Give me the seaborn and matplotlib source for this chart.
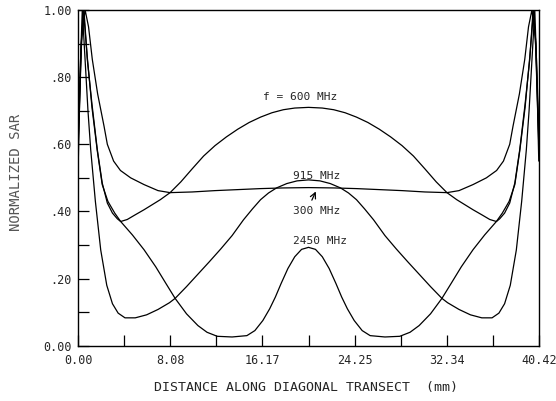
import matplotlib
matplotlib.use("Agg")
import matplotlib.pyplot as plt
import seaborn as sns
import pandas as pd

# ---------------- data ----------------
x_300 = [0.00, 0.30, 0.60, 0.90, 1.23, 1.70, 2.26, 2.55, 3.10, 3.70, 4.60, 5.77,
         7.00, 8.06, 10.00, 12.00, 14.00, 16.00, 18.00, 20.21,
         22.42, 24.42, 26.42, 28.42, 30.42, 32.36, 33.42, 34.65, 35.82, 36.72,
         37.32, 37.87, 38.16, 38.72, 39.19, 39.52, 39.82, 40.12, 40.42]
y_300 = [0.60, 0.92, 1.00, 0.95, 0.853, 0.75, 0.654, 0.600, 0.550, 0.522, 0.500, 0.480,
         0.462, 0.456, 0.458, 0.462, 0.465, 0.468, 0.470, 0.471,
         0.470, 0.468, 0.465, 0.462, 0.458, 0.456, 0.462, 0.480, 0.500, 0.522,
         0.550, 0.600, 0.654, 0.75, 0.853, 0.95, 1.00, 0.92, 0.60]

x_600 = [0.00, 0.25, 0.50, 0.79, 1.20, 1.67, 2.10, 2.55, 3.00, 3.43, 3.72, 4.30,
         5.00, 5.77, 7.20, 8.06, 9.00, 10.00, 11.00, 12.00, 13.00, 14.00, 15.00,
         16.00, 17.00, 18.00, 19.00, 20.21,
         21.42, 22.42, 23.42, 24.42, 25.42, 26.42, 27.42, 28.42, 29.42, 30.42,
         31.42, 32.36, 33.22, 34.65, 35.42, 36.12, 36.70, 36.99, 37.42, 37.87,
         38.32, 38.75, 39.22, 39.63, 39.92, 40.17, 40.42]
y_600 = [0.65, 0.90, 1.00, 0.853, 0.72, 0.584, 0.485, 0.425, 0.395, 0.378, 0.370, 0.376,
         0.390, 0.405, 0.435, 0.456, 0.488, 0.527, 0.565, 0.596, 0.622, 0.645, 0.665,
         0.681, 0.694, 0.703, 0.708, 0.710,
         0.708, 0.703, 0.694, 0.681, 0.665, 0.645, 0.622, 0.596, 0.565, 0.527,
         0.488, 0.456, 0.435, 0.405, 0.390, 0.376, 0.370, 0.378, 0.395, 0.425,
         0.485, 0.584, 0.72, 0.853, 1.00, 0.90, 0.65]

x_915 = [0.00, 0.20, 0.35, 0.60, 0.85, 1.09, 1.50, 1.97, 2.50, 3.00, 3.50, 4.10,
         5.00, 6.00, 7.00, 8.00, 8.50, 9.50, 10.50, 11.50, 12.50, 13.50, 14.50,
         15.30, 16.00, 16.70, 17.40, 18.30, 19.20, 20.21,
         21.22, 22.12, 23.02, 23.72, 24.42, 25.12, 25.92, 26.92, 27.92, 28.92,
         29.92, 30.92, 31.92, 32.42, 33.42, 34.42, 35.42, 36.32, 36.92, 37.42,
         37.92, 38.45, 38.92, 39.33, 39.57, 39.82, 40.07, 40.22, 40.42]
y_915 = [0.55, 0.85, 1.00, 0.85, 0.70, 0.584, 0.43, 0.285, 0.18, 0.125, 0.097, 0.083,
         0.083, 0.092, 0.108, 0.128, 0.141, 0.176, 0.213, 0.250, 0.288, 0.328, 0.375,
         0.408, 0.435, 0.455, 0.470, 0.483, 0.491, 0.494,
         0.491, 0.483, 0.470, 0.455, 0.435, 0.408, 0.375, 0.328, 0.288, 0.250,
         0.213, 0.176, 0.141, 0.128, 0.108, 0.092, 0.083, 0.083, 0.097, 0.125,
         0.18, 0.285, 0.43, 0.584, 0.70, 0.85, 1.00, 0.85, 0.55]

x_2450 = [0.00, 0.25, 0.45, 0.79, 1.20, 1.67, 2.10, 2.60, 3.20, 3.72, 4.75, 5.77,
          6.80, 7.70, 8.50, 9.50, 10.50, 11.30, 12.20, 13.50, 14.80, 15.50, 16.20,
          16.80, 17.30, 17.80, 18.40, 19.00, 19.60, 20.21,
          20.82, 21.42, 22.02, 22.62, 23.12, 23.62, 24.22, 24.92, 25.62, 26.92,
          28.22, 29.12, 29.92, 30.92, 31.92, 32.72, 33.62, 34.65, 35.67, 36.70,
          37.22, 37.82, 38.32, 38.75, 39.22, 39.63, 39.97, 40.17, 40.42]
y_2450 = [0.62, 0.88, 1.00, 0.86, 0.71, 0.58, 0.48, 0.43, 0.395, 0.370, 0.330, 0.286,
          0.235, 0.185, 0.141, 0.095, 0.060, 0.040, 0.028, 0.026, 0.030, 0.045, 0.075,
          0.110, 0.145, 0.185, 0.230, 0.265, 0.287, 0.293,
          0.287, 0.265, 0.230, 0.185, 0.145, 0.110, 0.075, 0.045, 0.030, 0.026,
          0.028, 0.040, 0.060, 0.095, 0.141, 0.185, 0.235, 0.286, 0.330, 0.370,
          0.395, 0.43, 0.48, 0.58, 0.71, 0.86, 1.00, 0.88, 0.62]

x_tick_values = [0.0, 8.084, 16.168, 24.252, 32.336, 40.42]
x_tick_labels = ["0.00", "8.08", "16.17", "24.25", "32.34", "40.42"]
x_minor_values = [4.042, 12.126, 20.21, 28.294, 36.378]
y_tick_values = [0.0, 0.2, 0.4, 0.6, 0.8, 1.0]
y_tick_labels = ["0.00", ".20", ".40", ".60", ".80", "1.00"]
y_minor_values = [0.1, 0.3, 0.5, 0.7, 0.9]

curve_labels = ["f = 600 MHz", "915 MHz", "300 MHz", "2450 MHz"]

# ---------------- plotting ----------------
sns.set_style("white")
plt.rcParams["font.family"] = ["DejaVu Sans Mono", "DejaVu Sans"]

fig = plt.figure(figsize=(5.56, 4.01), dpi=100)
ax = fig.add_axes([0.1408, 0.1379, 0.969 - 0.1408, 0.975 - 0.1379])

for xs, ys in [(x_300, y_300), (x_600, y_600), (x_915, y_915), (x_2450, y_2450)]:
    df = pd.DataFrame({"x": xs, "y": ys})
    sns.lineplot(data=df, x="x", y="y", ax=ax, color="black", linewidth=0.9,
                 sort=False, estimator=None)

ax.set_xlim(0, 40.42)
ax.set_ylim(0, 1.0)

ax.set_xticks(x_tick_values)
ax.set_xticklabels(x_tick_labels)
ax.set_xticks(x_minor_values, minor=True)
ax.set_yticks(y_tick_values)
ax.set_yticklabels(y_tick_labels)
ax.set_yticks(y_minor_values, minor=True)

ax.tick_params(axis="both", which="both", direction="in", length=8, width=0.9,
               color="black", top=False, right=False, bottom=True, left=True)
ax.tick_params(axis="x", which="major", pad=6, labelsize=8.5)
ax.tick_params(axis="y", which="major", pad=4.5, labelsize=8.5)

for sp in ax.spines.values():
    sp.set_visible(True)
    sp.set_color("black")
    sp.set_linewidth(1.0)

ax.set_xlabel("DISTANCE ALONG DIAGONAL TRANSECT  (mm)", fontsize=9.5)
ax.xaxis.set_label_coords(0.495, -0.105)
ax.set_ylabel("NORMALIZED SAR", fontsize=10, color="#555555")
ax.yaxis.set_label_coords(-0.12, 0.517)

ax.text(16.2, 0.742, curve_labels[0], fontsize=8, va="center", ha="left")
ax.text(18.87, 0.507, curve_labels[1], fontsize=8, va="center", ha="left")
ax.text(18.87, 0.400, curve_labels[2], fontsize=8, va="center", ha="left")
ax.text(18.87, 0.313, curve_labels[3], fontsize=8, va="center", ha="left")
ax.annotate("", xy=(20.95, 0.467), xytext=(20.4, 0.426),
            arrowprops=dict(arrowstyle="->", color="black", lw=0.9))

fig.savefig("out.png", dpi=100)
